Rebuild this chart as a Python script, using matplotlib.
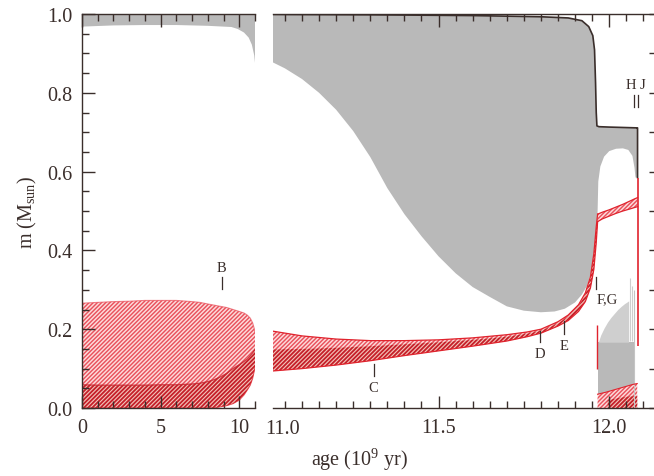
import numpy as np
import matplotlib
matplotlib.use("Agg")
import matplotlib.pyplot as plt
from matplotlib.ticker import MultipleLocator

plt.rcParams['font.family'] = ['Liberation Serif', 'DejaVu Serif']
plt.rcParams['mathtext.fontset'] = 'custom'
plt.rcParams['mathtext.rm'] = 'Liberation Serif'
plt.rcParams['mathtext.it'] = 'Liberation Serif:italic'
plt.rcParams['hatch.linewidth'] = 1.1

INK = '#3a2e2b'
GRAY = '#b9b9b9'
LIGHT_GRAY = '#cfcfcf'
RED = '#e0232d'
PINK = '#fddcdc'
PINK_HATCH = '#e9525d'
DARK_FACE = '#f3c4ba'
DARK_HATCH = '#c51f29'

# ---- main sequence (left panel), age in Gyr ----
env_age_L = [0, 2, 4, 6, 8, 9.5, 9.9, 10.3, 10.6, 10.8, 10.95, 11.0]
env_bot_L = [0.968, 0.971, 0.972, 0.972, 0.970, 0.967, 0.962, 0.953, 0.940, 0.922, 0.895, 0.876]

age_L = [0, 1, 2, 3, 4, 5, 6, 7, 7.5, 8, 8.4, 8.8, 9.2, 9.6, 10.0, 10.3, 10.5, 10.7, 10.85, 10.95, 11.0]
burn_top_L = [0.266, 0.268, 0.270, 0.271, 0.273, 0.273, 0.273, 0.270, 0.268, 0.264, 0.261,
              0.258, 0.255, 0.250, 0.245, 0.241, 0.236, 0.228, 0.216, 0.202, 0.190]
burn_bot_L = [0, 0, 0, 0, 0, 0, 0, 0, 0, 0, 0, 0.003, 0.006, 0.011, 0.020, 0.033,
              0.045, 0.058, 0.075, 0.093, 0.104]
core_top_L = [0.059, 0.058, 0.058, 0.058, 0.058, 0.059, 0.059, 0.061, 0.063, 0.067, 0.072,
              0.079, 0.088, 0.100, 0.110, 0.118, 0.124, 0.133, 0.140, 0.146, 0.149]

# ---- red giant branch and beyond (right panel) ----
surf_age = [11.015, 11.3, 11.6, 11.8, 11.88, 11.92, 11.94, 11.952, 11.957, 11.96, 11.962,
            11.964, 11.97, 12.0, 12.04, 12.08, 12.083, 12.083]
surf_m = [0.999, 0.998, 0.996, 0.993, 0.990, 0.983, 0.968, 0.945, 0.909, 0.825, 0.750,
          0.716, 0.714, 0.713, 0.712, 0.711, 0.711, 0.585]

env_age_R = [11.015, 11.05, 11.1, 11.15, 11.2, 11.25, 11.3, 11.35, 11.4, 11.45, 11.5,
             11.55, 11.6, 11.65, 11.7, 11.75, 11.8, 11.84, 11.87, 11.9, 11.92, 11.935,
             11.948, 11.956, 11.961, 11.965,
             11.966, 11.968, 11.974, 11.985, 12.0, 12.02, 12.04, 12.056, 12.068, 12.074,
             12.077, 12.083]
env_bot_R = [0.877, 0.862, 0.835, 0.800, 0.757, 0.703, 0.637, 0.558, 0.492, 0.436, 0.385,
             0.342, 0.307, 0.282, 0.258, 0.247, 0.243, 0.245, 0.252, 0.268, 0.288, 0.310,
             0.345, 0.400, 0.450, 0.486,
             0.500, 0.575, 0.613, 0.638, 0.652, 0.658, 0.659, 0.655, 0.640, 0.610,
             0.585, 0.585]

shell_age = [11.015, 11.1, 11.2, 11.3, 11.4, 11.5, 11.6, 11.7, 11.76, 11.8, 11.85, 11.88,
             11.91, 11.93, 11.945, 11.955, 11.962, 11.966]
shell_top = [0.195, 0.183, 0.175, 0.171, 0.171, 0.173, 0.178, 0.186, 0.193, 0.200, 0.219,
             0.236, 0.262, 0.292, 0.333, 0.392, 0.460, 0.492]
shell_bot = [0.094, 0.100, 0.109, 0.120, 0.133, 0.145, 0.157, 0.170, 0.181, 0.190, 0.208,
             0.222, 0.245, 0.270, 0.305, 0.352, 0.420, 0.473]
shell_mid = [0.149, 0.150, 0.153, 0.157, 0.162, 0.167, 0.173, 0.181, 0.189, 0.196, 0.215,
             0.232, 0.258, 0.288, 0.329, 0.388, 0.456, 0.488]

band_age = [11.966, 11.98, 12.0, 12.02, 12.04, 12.06, 12.075, 12.083]
band_top = [0.492, 0.497, 0.503, 0.510, 0.517, 0.525, 0.531, 0.534]
band_bot = [0.473, 0.480, 0.487, 0.494, 0.500, 0.505, 0.509, 0.511]

he_age = [11.966, 12.077]
he_top = [0.167, 0.167]
lg_age = [11.968, 11.975, 11.985, 11.995, 12.005, 12.015, 12.025, 12.035, 12.045, 12.054, 12.057]
lg_top = [0.167, 0.185, 0.203, 0.218, 0.230, 0.240, 0.250, 0.258, 0.265, 0.270, 0.272]

flash_age = [11.966, 11.99, 12.01, 12.03, 12.05, 12.07, 12.082]
flash_top = [0.035, 0.040, 0.045, 0.050, 0.055, 0.060, 0.062]
flash_dark_age = [11.995, 12.03, 12.06, 12.082]
flash_dark_top = [0.020, 0.026, 0.030, 0.030]

# event markers: (label, age, lower end of tick, upper end)
events_L = [('B', 8.9, 0.301, 0.332)]
events_R = [('C', 11.31, 0.081, 0.111), ('D', 11.798, 0.167, 0.195),
            ('E', 11.868, 0.187, 0.220), ('F,G', 11.962, 0.301, 0.332)]

W, H = 654, 477
fig = plt.figure(figsize=(W / 100, H / 100), dpi=100)
y0, y1 = 409, 15
axL = fig.add_axes([82 / W, (H - y0) / H, (255 - 82) / W, (y0 - y1) / H])
axR = fig.add_axes([273 / W, (H - y0) / H, (657 - 273) / W, (y0 - y1) / H])


def hatched(ax, x, lo, hi, dark=False):
    face, edge = (DARK_FACE, DARK_HATCH) if dark else (PINK, PINK_HATCH)
    coll = ax.fill_between(x, lo, hi, facecolor=face, edgecolor=edge, hatch='////////', lw=0)
    if hasattr(coll, 'set_hatch_linewidth'):
        coll.set_hatch_linewidth(1.3 if dark else 1.05)
    return coll


# left panel
axL.fill(env_age_L + [11.0, 0], env_bot_L + [1.0, 1.0], color=GRAY, lw=0)
hatched(axL, age_L, burn_bot_L, burn_top_L)
hatched(axL, age_L, burn_bot_L, core_top_L, dark=True)
axL.plot(age_L, burn_top_L, color=PINK_HATCH, lw=0.8, alpha=0.7)
axL.plot(age_L, core_top_L, color=DARK_HATCH, lw=0.9, alpha=0.8)
axL.plot(age_L, burn_bot_L, color=RED, lw=0.8, alpha=0.7)

# right panel: convective envelope
axR.fill(surf_age + env_age_R[::-1], surf_m + env_bot_R[::-1], color=GRAY, lw=0)
axR.plot(surf_age, surf_m, color=INK, lw=1.2)

# helium core region after the flash
axR.fill_between(he_age, [0, 0], he_top, color=GRAY, lw=0)
axR.fill_between(lg_age, [0.167] * len(lg_age), lg_top, color=LIGHT_GRAY, lw=0)
axR.vlines([12.062, 12.068], 0.17, [0.33, 0.31], color=LIGHT_GRAY, lw=0.8)
axR.vlines([12.074], 0.0, [0.30], color='#c4c4c4', lw=0.8)

# hydrogen burning shell
hatched(axR, shell_age, shell_bot, shell_top)
hatched(axR, shell_age, shell_bot, shell_mid, dark=True)
axR.plot(shell_age, shell_top, color=RED, lw=0.9)
axR.plot(shell_age, shell_bot, color=RED, lw=0.9)
hatched(axR, band_age, band_bot, band_top)
axR.plot(band_age, band_top, color=RED, lw=0.9)
axR.plot(band_age, band_bot, color=RED, lw=0.9)
axR.vlines([11.965], 0.10, 0.21, color=RED, lw=1.0)
axR.vlines([12.085], 0.157, 0.585, color=RED, lw=1.2)

hatched(axR, flash_age, [0] * len(flash_age), flash_top)
hatched(axR, flash_dark_age, [0] * len(flash_dark_age), flash_dark_top, dark=True)
axR.plot(flash_age, flash_top, color=RED, lw=0.8)

# event labels
for name, age, lo, hi in events_L:
    axL.plot([age, age], [lo, hi], color=INK, lw=0.9)
    axL.text(age, hi + 0.008, name, ha='center', va='bottom', fontsize=10.5, color=INK)
for name, age, lo, hi in events_R:
    axR.plot([age, age], [lo, hi], color=INK, lw=0.9)
    if name == 'F,G':
        axR.text(age + 0.032, lo - 0.008, name, ha='center', va='top', fontsize=10.5, color=INK)
    else:
        axR.text(age, lo - 0.012, name, ha='center', va='top', fontsize=10.5, color=INK)
axR.plot([12.073, 12.073], [0.765, 0.795], color=INK, lw=0.9)
axR.plot([12.084, 12.084], [0.765, 0.795], color=INK, lw=0.9)
axR.text(12.078, 0.805, 'H J', ha='center', va='bottom', fontsize=10.5, color=INK)

# axes styling
for ax in (axL, axR):
    ax.set_ylim(0, 1)
    for s in ax.spines.values():
        s.set_color(INK)
        s.set_linewidth(1.0)
    ax.tick_params(which='both', direction='in', colors=INK, labelsize=14.5, width=1.0)
    ax.tick_params(which='major', length=9, pad=7)
    ax.tick_params(which='minor', length=5)

axL.set_xlim(0, 11)
axL.spines['right'].set_visible(False)
axL.xaxis.set_major_locator(MultipleLocator(5))
axL.xaxis.set_minor_locator(MultipleLocator(1))
axL.yaxis.set_major_locator(MultipleLocator(0.2))
axL.yaxis.set_minor_locator(MultipleLocator(0.05))
axL.yaxis.set_major_formatter(lambda v, p: f"{v:.1f}")
axL.tick_params(which='both', top=True, right=False)
axL.set_ylabel(r"m (M$_{\mathrm{sun}}$)", fontsize=14.5, color=INK, labelpad=6)

axR.set_xlim(11.015, 12.14)
axR.spines['left'].set_visible(False)
axR.set_xticks([11.5, 12.0])
axR.set_xticklabels(['11.5', '12.0'])
axR.xaxis.set_minor_locator(MultipleLocator(0.05))
axR.yaxis.set_major_locator(MultipleLocator(0.1))
axR.yaxis.set_minor_locator(MultipleLocator(0.1))
axR.tick_params(which='both', top=True, left=False, labelleft=False,
                right=True, labelright=False)
axR.tick_params(axis='y', which='both', length=6)
axR.text(-0.02, -0.027, '11.0', transform=axR.transAxes, ha='left', va='top',
         fontsize=14.5, color=INK)

fig.text(360 / W, 1 - 460 / H, r"age (10$^{9}$ yr)", ha='center', va='center',
         fontsize=14.5, color=INK)

fig.savefig("out.png", dpi=100)
